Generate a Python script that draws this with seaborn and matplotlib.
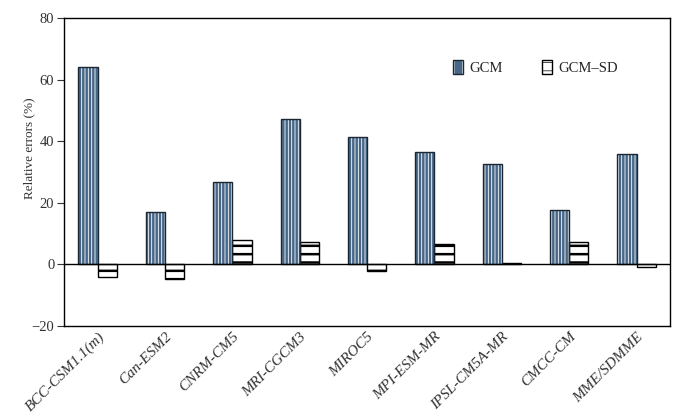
import pandas as pd
import numpy as np
import seaborn as sns
import matplotlib.pyplot as plt
from matplotlib.patches import Patch, Rectangle

sns.set_style("ticks")
plt.rcParams['font.family'] = ['Liberation Serif', 'DejaVu Serif']
plt.rcParams['hatch.linewidth'] = 0.5

models = ["BCC-CSM1.1(m)", "Can-ESM2", "CNRM-CM5", "MRI-CGCM3", "MIROC5",
          "MPI-ESM-MR", "IPSL-CM5A-MR", "CMCC-CM", "MME/SDMME"]
gcm = [64.0, 17.0, 26.6, 47.1, 41.3, 36.4, 32.6, 17.7, 35.7]
gcm_sd = [-4.0, -4.6, 7.8, 7.2, -2.3, 6.5, 0.4, 7.2, -0.9]
series = ["GCM", "GCM\u2013SD"]

df = pd.DataFrame({
    "model": models * 2,
    "error": gcm + gcm_sd,
    "type": [series[0]] * len(models) + [series[1]] * len(models),
})

blue = "#466787"
dark = "#1b2733"

fig = plt.figure(figsize=(7, 4.2), dpi=100)
ax = fig.add_axes([0.0914, 0.224, 0.866, 0.733])

sns.barplot(data=df, x="model", y="error", hue="type", width=0.57,
            palette=[blue, "white"], ax=ax, legend=False, saturation=1)

# GCM: blue with thin white vertical stripes, dark outline on top
for p in ax.containers[0]:
    p.set_facecolor(blue)
    p.set_edgecolor("white")
    p.set_hatch("|||||")
    p.set_linewidth(0)
    if hasattr(p, "set_hatch_linewidth"):
        p.set_hatch_linewidth(0.6)
    ax.add_patch(Rectangle((p.get_x(), p.get_y()), p.get_width(), p.get_height(),
                           fill=False, edgecolor=dark, lw=1.0, zorder=p.get_zorder() + 0.1))
# GCM-SD: white with thick black horizontal lines
for p in ax.containers[1]:
    p.set_facecolor("white")
    p.set_edgecolor("black")
    p.set_hatch("--")
    p.set_linewidth(1.0)
    if hasattr(p, "set_hatch_linewidth"):
        p.set_hatch_linewidth(1.8)

ax.axhline(0, color="black", lw=1.0)
ax.set_xlim(-0.5, len(models) - 0.5)
ax.set_ylim(-20, 80)
ax.set_yticks([-20, 0, 20, 40, 60, 80])
ax.set_xlabel("")
ax.set_ylabel("Relative errors (%)", fontsize=9.5, color="#333333")
ax.yaxis.set_label_coords(-0.048, 0.578)
ax.tick_params(axis="y", direction="out", length=5, width=0.8, labelsize=10.5, colors="#333333", pad=2)
ax.tick_params(axis="x", length=0, labelsize=11, colors="#333333", pad=3)
for lab in ax.get_xticklabels():
    lab.set_rotation(45)
    lab.set_ha("right")
    lab.set_rotation_mode("anchor")
    lab.set_style("italic")
for s in ax.spines.values():
    s.set_linewidth(1.0)
    s.set_color("black")
    s.set_visible(True)

h1a = Patch(facecolor=blue, edgecolor="white", hatch="||", lw=0)
h1b = Patch(facecolor="none", edgecolor=dark, lw=1.0)
h2 = Patch(facecolor="white", edgecolor="black", hatch="--")
ax.legend(handles=[(h1a, h1b), h2], labels=series, ncol=2, frameon=False, loc="upper right",
          bbox_to_anchor=(0.935, 0.905), handlelength=0.7, handleheight=1.1,
          handletextpad=0.4, columnspacing=2.7, fontsize=10.5)

fig.savefig("out.png", dpi=100)
